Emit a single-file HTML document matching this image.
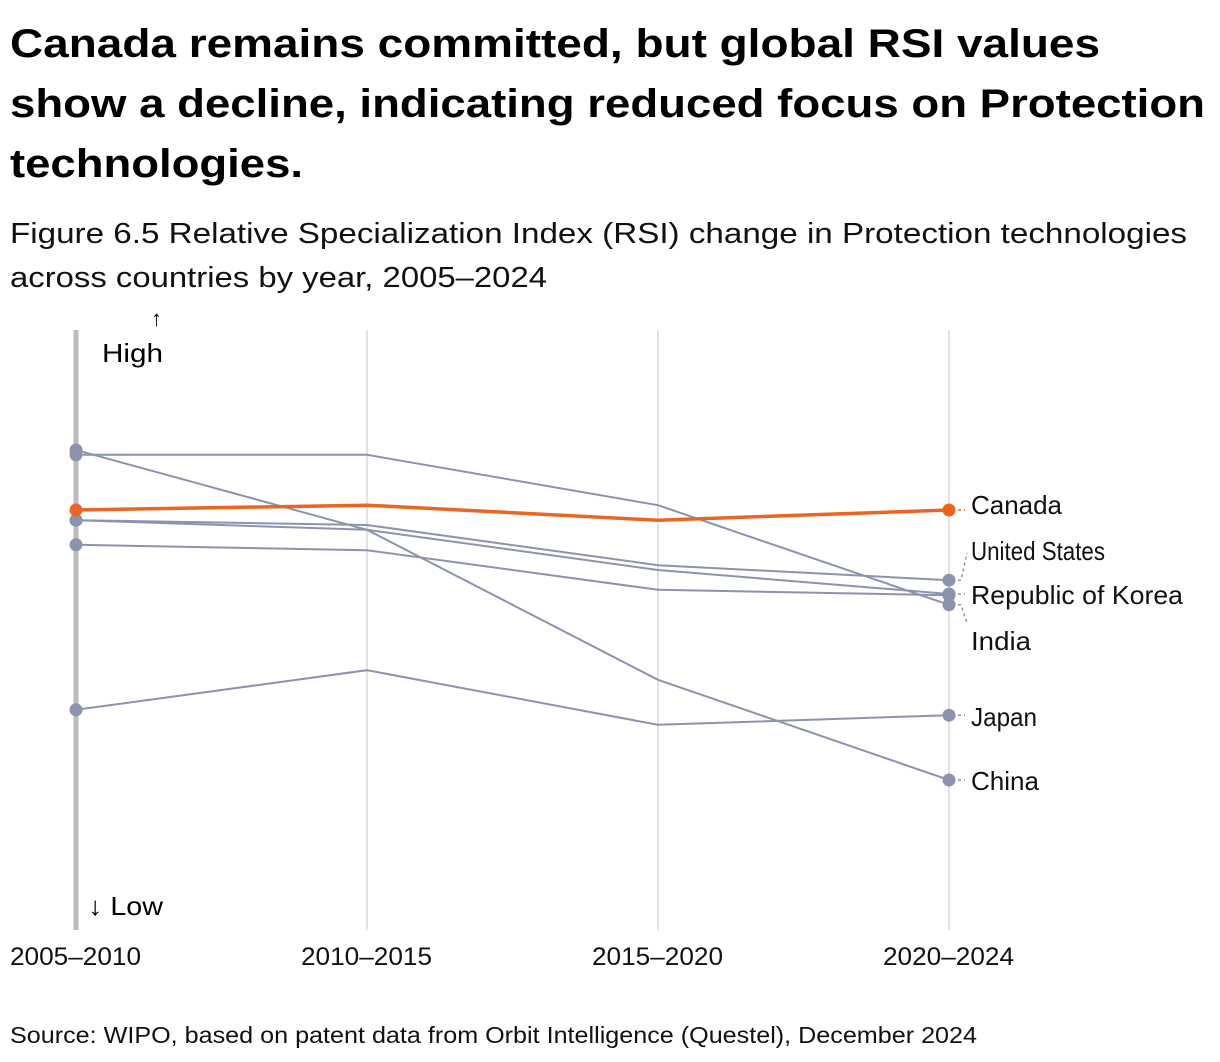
<!DOCTYPE html>
<html><head><meta charset="utf-8"><style>
html,body{margin:0;padding:0;background:#fff;width:1220px;height:1062px;overflow:hidden}
body{font-family:"Liberation Sans",sans-serif;color:#000}
svg{position:absolute;left:0;top:0;font-family:"Liberation Sans",sans-serif}
</style></head><body>
<svg id="chart" width="1220" height="1062">
<g font-weight="bold" font-size="40">
<text x="10" y="57" textLength="1090" lengthAdjust="spacingAndGlyphs">Canada remains committed, but global RSI values</text>
<text x="10" y="117" textLength="1195" lengthAdjust="spacingAndGlyphs">show a decline, indicating reduced focus on Protection</text>
<text x="10" y="177" textLength="293" lengthAdjust="spacingAndGlyphs">technologies.</text>
</g>
<g font-size="29" fill="#111">
<text x="10" y="243" textLength="1177" lengthAdjust="spacingAndGlyphs">Figure 6.5 Relative Specialization Index (RSI) change in Protection technologies</text>
<text x="10" y="287" textLength="537" lengthAdjust="spacingAndGlyphs">across countries by year, 2005–2024</text>
</g>
</svg>
<script>
const periods=["2005–2010","2010–2015","2015–2020","2020–2024"];
const canada=[70,70.8,68.3,70];
const unitedStates=[68.3,67.5,60.8,58.3];
const korea=[68.3,66.7,60,56];
const other=[64.2,63.3,56.7,55.8];
const india=[79.2,79.2,70.8,54.2];
const china=[80,66.7,41.7,25];
const japan=[36.7,43.3,34.2,35.8];
const seriesNames=["other","United States","Republic of Korea","India","Japan","China","Canada"];
const seriesVals=[other,unitedStates,korea,india,japan,china,canada];
const labelY={"Canada":505,"United States":551,"Republic of Korea":595,"India":641,"Japan":717,"China":781};
const labelW={"Canada":91,"United States":134,"Republic of Korea":212,"India":60,"Japan":66,"China":68};
const NS="http://www.w3.org/2000/svg";
const svg=document.getElementById('chart');
const x=i=>76+i*291;
const y=v=>930-v*6;
function mk(t,a,p){const e=document.createElementNS(NS,t);for(const k in a)e.setAttribute(k,a[k]);(p||svg).appendChild(e);return e;}
periods.forEach((p,i)=>{
 const g=mk('line',{x1:x(i),x2:x(i),y1:330,y2:930,stroke:i==0?'#bbb':'#e3e3e3','stroke-width':i==0?5:2});
 
 
 const t=mk('text',{x:x(i)-66,y:965,'font-size':25,fill:'#111',textLength:131,lengthAdjust:'spacingAndGlyphs'});
 t.textContent=p;
 
 
});
const hi=mk('text',{x:151,y:326,'font-size':22});hi.textContent='↑';


const hl=mk('text',{x:102,y:362,'font-size':26,textLength:61,lengthAdjust:'spacingAndGlyphs'});hl.textContent='High';


const lo=mk('text',{x:88,y:915,'font-size':26,textLength:75,lengthAdjust:'spacingAndGlyphs'});lo.textContent='↓ Low';


seriesVals.forEach((vals,s)=>{
 const name=seriesNames[s];const isC=name=="Canada";
 const col=isC?'#ec6520':'#8c93ad';
 const pl=mk('polyline',{points:vals.map((v,i)=>x(i)+','+y(v)).join(' '),fill:'none',stroke:col,'stroke-width':isC?3.5:2});
 
 
 [0,3].forEach(i=>{
  const c=mk('circle',{cx:x(i),cy:y(vals[i]),r:6.5,fill:col});
  
  
 });
 if(labelY[name]){
  const ly=labelY[name];const py=y(vals[3]);
  let d;
  if(Math.abs(ly-py)<12) d=`M${x(3)+9} ${py} L${x(3)+16} ${py}`;
  else d=`M${x(3)+9} ${py} L${x(3)+12} ${py} L${x(3)+18} ${ly<py?ly+2:ly-18}`;
  mk('path',{d:d,fill:'none',stroke:col,'stroke-width':1.5,'stroke-dasharray':'3,3'});
  const t=mk('text',{x:971,y:ly+9,'font-size':26,fill:'#111',textLength:labelW[name],lengthAdjust:'spacingAndGlyphs'});
  t.textContent=name;
  
  
 }
});
const src=mk('text',{x:10,y:1043,'font-size':23,fill:'#111',textLength:967,lengthAdjust:'spacingAndGlyphs'});
src.textContent='Source: WIPO, based on patent data from Orbit Intelligence (Questel), December 2024';


</script>
</body></html>
